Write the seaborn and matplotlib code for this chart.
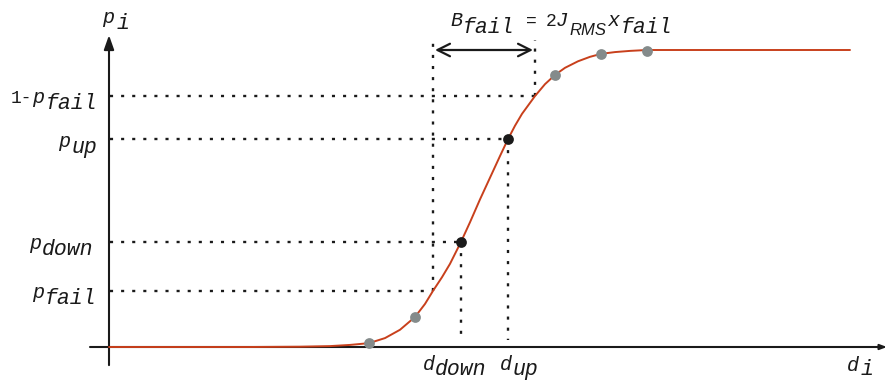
import matplotlib
matplotlib.use("Agg")
import matplotlib.pyplot as plt
import seaborn as sns
import pandas as pd

# curve (d in px-like units, p in 0..1)
d_curve = [109, 250, 300, 330, 350, 369, 385, 400, 415, 425, 433, 442, 450, 461,
           470, 480, 490, 500, 508, 515, 522, 535, 545, 555, 565, 578, 590, 601,
           615, 630, 647, 680, 750, 850]
p_curve = [0.0, 0.0, 0.001, 0.003, 0.007, 0.013, 0.030, 0.058, 0.101, 0.145,
           0.189, 0.235, 0.280, 0.354, 0.420, 0.497, 0.570, 0.643, 0.700, 0.745,
           0.785, 0.845, 0.885, 0.916, 0.940, 0.962, 0.977, 0.987, 0.993, 0.997,
           1.0, 1.0, 1.0, 1.0]

# sample points on the curve
grey_d = [369, 415, 555, 601, 647]
grey_p = [0.013, 0.101, 0.916, 0.987, 0.997]
black_d = [461, 508]
black_p = [0.354, 0.700]

# levels and positions
p_fail = 0.189
p_down = 0.354
p_up = 0.700
p_hi = 0.845          # 1 - p_fail
d_down = 461
d_up = 508
d_lo = 433            # B_fail left edge
d_hi = 535            # B_fail right edge

RED = "#c8401c"
GREY = "#848b8b"
INK = "#1a1a1a"

sns.set_style("white")
plt.rcParams["font.family"] = ["Liberation Mono", "DejaVu Sans"]

fig = plt.figure(figsize=(8.88, 3.81), dpi=100)
ax = fig.add_axes([0, 0, 1, 1])
ax.set_xlim(0, 888)
ax.set_ylim(-34 / 297, 347 / 297)
ax.axis("off")

# axes with arrows
ax.annotate("", xy=(109, 1.05), xytext=(109, -0.061),
            arrowprops=dict(arrowstyle="-|>,head_length=0.85,head_width=0.3",
                            lw=1.5, color=INK, shrinkA=0, shrinkB=0, mutation_scale=10))
ax.annotate("", xy=(887, 0), xytext=(90, 0),
            arrowprops=dict(arrowstyle="-|>,head_length=0.4,head_width=0.15",
                            lw=1.5, color=INK, shrinkA=0, shrinkB=0, mutation_scale=10))

# dotted guide lines
dot = dict(color=INK, lw=1.7, linestyle=(0, (1.3, 3.4)))
for lvl, xend in [(p_hi, d_hi), (p_up, d_up), (p_down, d_down), (p_fail, d_lo)]:
    ax.plot([110, xend], [lvl, lvl], **dot)
ax.plot([d_lo, d_lo], [p_fail, 1.034], **dot)
ax.plot([d_hi, d_hi], [p_hi, 1.034], **dot)
ax.plot([d_down, d_down], [p_down, 0.024], **dot)
ax.plot([d_up, d_up], [p_up, 0.024], **dot)

# B_fail double arrow
ax.annotate("", xy=(d_hi - 2, 1.0), xytext=(d_lo + 2, 1.0),
            arrowprops=dict(arrowstyle="<->,head_length=0.9,head_width=0.45",
                            lw=1.6, color=INK, shrinkA=0, shrinkB=0, mutation_scale=10))

# the curve and points
curve = pd.DataFrame({"d": d_curve, "p": p_curve})
sns.lineplot(data=curve, x="d", y="p", sort=False, color=RED, lw=1.4, ax=ax, zorder=3)
sns.scatterplot(x=grey_d, y=grey_p, color=GREY, s=60, linewidth=0, ax=ax, zorder=4)
sns.scatterplot(x=black_d, y=black_p, color=INK, s=60, linewidth=0, ax=ax, zorder=4)


def style(kind):
    if kind == "b":
        return dict(fontsize=14.5, fontstyle="italic")
    if kind == "r":
        return dict(fontsize=13, fontstyle="normal")
    if kind == "s":
        return dict(fontsize=15.5, fontstyle="italic")
    return dict(fontsize=12, fontstyle="italic", family="Liberation Sans")


def label(x, y, parts, dy=0, drop=10):
    txt, kind, _ = parts[0]
    first = ax.annotate(txt, xy=(x, y), xytext=(0, -dy), textcoords="offset pixels",
                        ha="left", va="baseline", color=INK, **style(kind))
    prev = first
    for txt, kind, gap in parts[1:]:
        sub = kind in ("s", "k")
        prev = ax.annotate(txt, xy=(1, 0), xycoords=(prev, first),
                           xytext=(gap, -drop if sub else 0), textcoords="offset pixels",
                           ha="left", va="bottom", color=INK, **style(kind))


label(11, p_hi, [("1-", "r", 0), ("p", "b", 0), ("fail", "s", 1)], dy=7, drop=7)
label(58, p_up, [("p", "b", 0), ("up", "s", 1)], dy=8, drop=7)
label(29, p_down, [("p", "b", 0), ("down", "s", 1)], dy=7, drop=7)
label(32, p_fail, [("p", "b", 0), ("fail", "s", 1)], dy=7, drop=7)
label(102, 1.094, [("p", "b", 0), ("i", "s", 2)], dy=1, drop=7)
label(423, -0.077, [("d", "b", 0), ("down", "s", 0)], drop=6)
label(500, -0.077, [("d", "b", 0), ("up", "s", 0)], drop=6)
label(847, -0.080, [("d", "b", 0), ("i", "s", 1)], drop=5)
label(450, 1.084, [("B", "b", 0), ("fail", "s", 1), ("=", "r", 11), ("2", "r", 9),
                   ("J", "b", 0), ("RMS", "k", 1), ("x", "b", 1), ("fail", "s", 1)], dy=1, drop=8)

fig.savefig("out.png", dpi=100)
